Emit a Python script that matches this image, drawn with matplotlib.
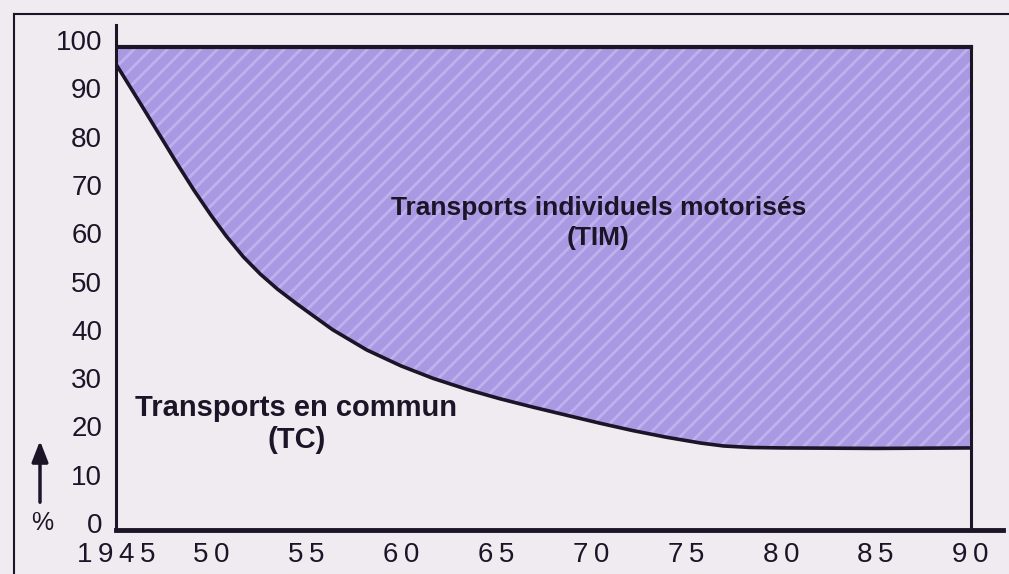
import matplotlib

matplotlib.use("Agg")
import matplotlib.pyplot as plt
from matplotlib.lines import Line2D
from matplotlib.patches import FancyArrowPatch
from matplotlib.transforms import ScaledTranslation

# share of public transport (TC), in %
years = [1945, 1946.4, 1947.3, 1948.2, 1949.1, 1950.0, 1950.8, 1951.7,
         1952.6, 1953.5, 1954.5, 1955.2, 1956.4, 1958.2, 1960.0, 1961.7,
         1963.5, 1965.2, 1967.0, 1968.8, 1970.5, 1972.2, 1974.0, 1975.8,
         1977.0, 1978.4, 1980, 1985, 1990]
tc_share = [96.5, 87.6, 81.8, 76.0, 70.4, 65.2, 60.9, 56.6,
            53.0, 49.9, 46.9, 44.9, 41.5, 37.3, 34.0, 31.4,
            29.1, 27.2, 25.4, 23.7, 22.1, 20.6, 19.2, 18.0,
            17.4, 17.1, 17.0, 16.9, 17.0]

x_ticks = [1945, 1950, 1955, 1960, 1965, 1970, 1975, 1980, 1985, 1990]
x_labels = ["1945", "50", "55", "60", "65", "70", "75", "80", "85", "90"]
y_ticks = [0, 10, 20, 30, 40, 50, 60, 70, 80, 90, 100]

INK = "#1b1528"
BG = "#efebf1"
FILL = "#a899e2"
STRIPE = "#bdb2ee"

plt.rcParams["font.family"] = ["Liberation Sans", "DejaVu Sans"]
plt.rcParams["hatch.color"] = STRIPE
plt.rcParams["hatch.linewidth"] = 2.0

fig = plt.figure(figsize=(10.09, 5.74), dpi=100, facecolor=BG)
ax = fig.add_axes([116 / 1009, 44 / 574, 887 / 1009, 505 / 574])
ax.set_facecolor(BG)

ax.fill_between(years, tc_share, 100, facecolor=FILL, edgecolor=STRIPE,
                hatch="//", linewidth=0)
ax.plot(years, tc_share, color=INK, lw=2.6, solid_joinstyle="round")
ax.plot([years[0], years[-1]], [100, 100], color=INK, lw=3)
ax.plot([years[-1], years[-1]], [0, 100], color=INK, lw=2.2)

ax.set_xlim(1945, 1991.7)
ax.set_ylim(0, 104.6)

for side in ("top", "right"):
    ax.spines[side].set_visible(False)
for side in ("left", "bottom"):
    ax.spines[side].set_color(INK)
ax.spines["left"].set_linewidth(2.2)
ax.spines["bottom"].set_linewidth(3.5)

# the printed years are letter-spaced, thin spaces mimic that
spaced = ["\u2009".join(lab) for lab in x_labels]
ax.set_xticks(x_ticks)
ax.set_xticklabels(spaced)
ax.set_yticks(y_ticks)
ax.tick_params(length=0, colors=INK, labelsize=20)
ax.tick_params(axis="y", pad=10)
ax.tick_params(axis="x", pad=9)
shift = ScaledTranslation(0, 7 / 100, fig.dpi_scale_trans)
for lab in ax.get_yticklabels():
    lab.set_transform(lab.get_transform() + shift)

ax.text(1970.4, 63.6, "Transports individuels motorisés\n(TIM)", ha="center",
        va="center", fontsize=19, fontweight="bold", color=INK,
        linespacing=1.3)
ax.text(1954.5, 21.9, "Transports en commun\n(TC)", ha="center",
        va="center", fontsize=21, fontweight="bold", color=INK,
        linespacing=1.2)

# percent marker with upward arrow, left of the axis
fig.text(42 / 1009, 1 - 523 / 574, "%", ha="center", va="center",
         fontsize=18, color=INK)
fig.patches.append(FancyArrowPatch(
    (40 / 1009, 1 - 505 / 574), (40 / 1009, 1 - 438 / 574),
    transform=fig.transFigure, arrowstyle="-|>,head_length=0.9,head_width=0.35",
    mutation_scale=14, color=INK, lw=2.5))

# page frame lines from the scan
fig.add_artist(Line2D([14 / 1009, 14 / 1009], [0, 1 - 14 / 574],
                      transform=fig.transFigure, color=INK, lw=1.5))
fig.add_artist(Line2D([14 / 1009, 1], [1 - 14 / 574, 1 - 14 / 574],
                      transform=fig.transFigure, color=INK, lw=1.5))

fig.savefig("out.png", dpi=100, facecolor=BG)
